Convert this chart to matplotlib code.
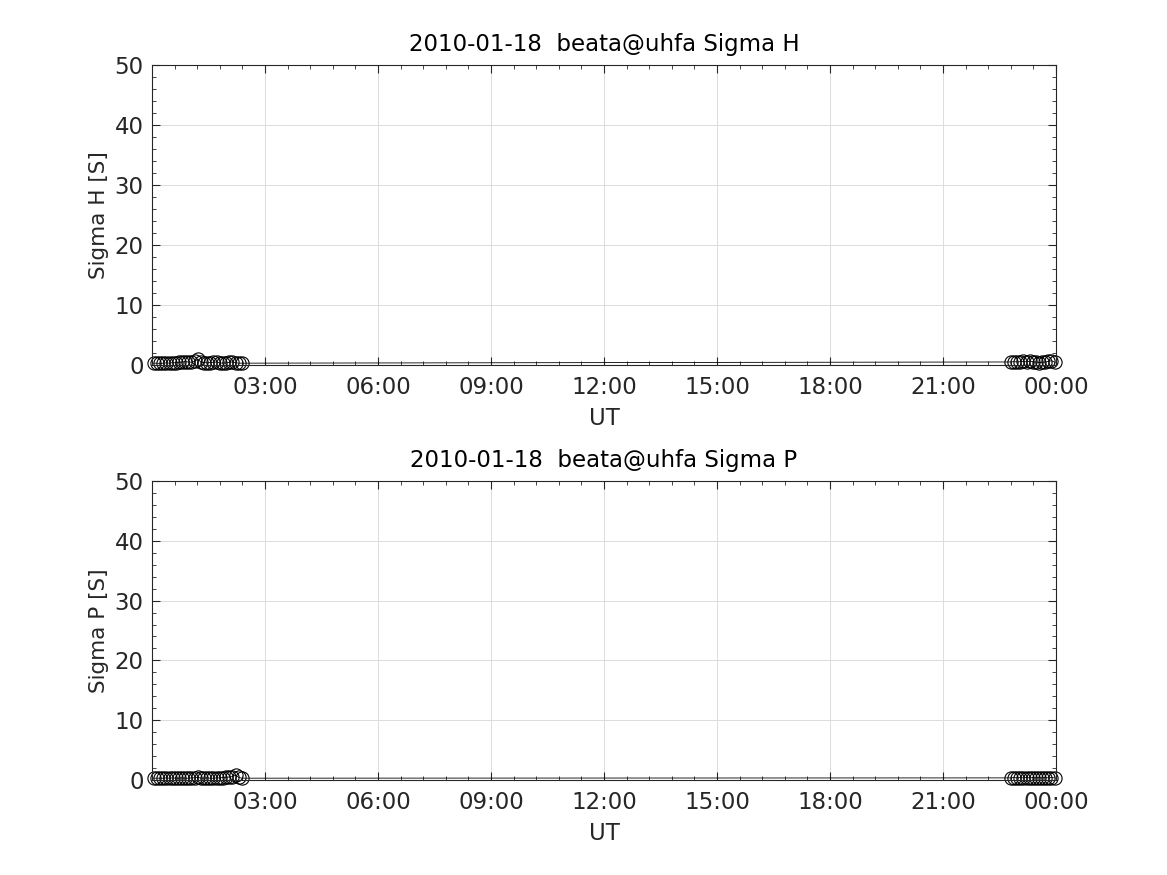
import matplotlib
matplotlib.use("Agg")
import matplotlib.pyplot as plt
from matplotlib.ticker import MultipleLocator, FixedLocator

# Data (hours UT, conductance in S)
hours = [0.05, 0.13, 0.22, 0.30, 0.38, 0.47, 0.55, 0.63, 0.72, 0.80, 0.88, 0.97,
         1.05, 1.13, 1.22, 1.30, 1.38, 1.47, 1.55, 1.63, 1.72, 1.80, 1.88, 1.97,
         2.05, 2.13, 2.22, 2.30, 2.38,
         22.80, 22.88, 22.97, 23.05, 23.13, 23.22, 23.30, 23.38, 23.47, 23.55,
         23.63, 23.72, 23.80, 23.88, 23.97]
sigma_h = [0.3, 0.3, 0.25, 0.3, 0.35, 0.3, 0.4, 0.35, 0.45, 0.5, 0.55, 0.5,
           0.45, 0.6, 0.95, 0.5, 0.4, 0.35, 0.4, 0.45, 0.5, 0.35, 0.3, 0.35,
           0.45, 0.5, 0.4, 0.3, 0.3,
           0.5, 0.55, 0.5, 0.55, 0.6, 0.5, 0.65, 0.55, 0.5, 0.4, 0.45, 0.5, 0.6,
           0.7, 0.45]
sigma_p = [0.3, 0.3, 0.3, 0.3, 0.35, 0.3, 0.35, 0.3, 0.3, 0.35, 0.3, 0.3,
           0.35, 0.35, 0.45, 0.3, 0.3, 0.35, 0.3, 0.3, 0.35, 0.35, 0.4, 0.45,
           0.5, 0.55, 0.8, 0.45, 0.3,
           0.35, 0.4, 0.35, 0.4, 0.35, 0.4, 0.35, 0.4, 0.35, 0.4, 0.35, 0.4,
           0.35, 0.4, 0.35]

xtick_pos = [3, 6, 9, 12, 15, 18, 21, 24]
xtick_labels = ["03:00", "06:00", "09:00", "12:00", "15:00", "18:00", "21:00", "00:00"]
date_str = "2010-01-18"
site = "beata@uhfa"

plt.rcParams['font.family'] = ['DejaVu Sans']
fig = plt.figure(figsize=(11.67, 8.75), dpi=100)

panels = [
    (sigma_h, "Sigma H", [0.1302, 0.5829, 0.7747, 0.3428]),
    (sigma_p, "Sigma P", [0.1302, 0.1086, 0.7747, 0.3417]),
]
for vals, name, rect in panels:
    ax = fig.add_axes(rect)
    ax.plot(hours, vals, color='black', linewidth=0.6, marker='o', markersize=9.5,
            markerfacecolor='none', markeredgecolor='black', markeredgewidth=0.8,
            clip_on=False)
    ax.set_xlim(0, 24)
    ax.set_ylim(0, 50)
    ax.xaxis.set_major_locator(FixedLocator(xtick_pos))
    ax.set_xticklabels(xtick_labels)
    ax.xaxis.set_minor_locator(MultipleLocator(0.6))
    ax.yaxis.set_major_locator(MultipleLocator(10))
    ax.yaxis.set_minor_locator(MultipleLocator(2))
    ax.tick_params(which='both', direction='in', top=True, right=True,
                   labelsize=16.5, colors='#262626', labelcolor='#262626')
    ax.tick_params(axis='x', which='major', pad=8)
    ax.tick_params(axis='y', which='major', pad=6)
    ax.tick_params(which='major', length=6, width=0.8)
    ax.tick_params(which='minor', length=3, width=0.6)
    ax.grid(True, which='major', color='#dcdcdc', linewidth=0.7)
    ax.set_axisbelow(True)
    for s in ax.spines.values():
        s.set_color('#262626')
        s.set_linewidth(0.8)
    ax.set_xlabel("UT", fontsize=16.5, color='#262626', labelpad=6)
    ax.set_ylabel(f"{name} [S]", fontsize=15.5, color='#262626', labelpad=4)
    ax.set_title(f"{date_str}  {site} {name}", fontsize=16.5, color='black', pad=10)

fig.savefig("out.png", dpi=100)
